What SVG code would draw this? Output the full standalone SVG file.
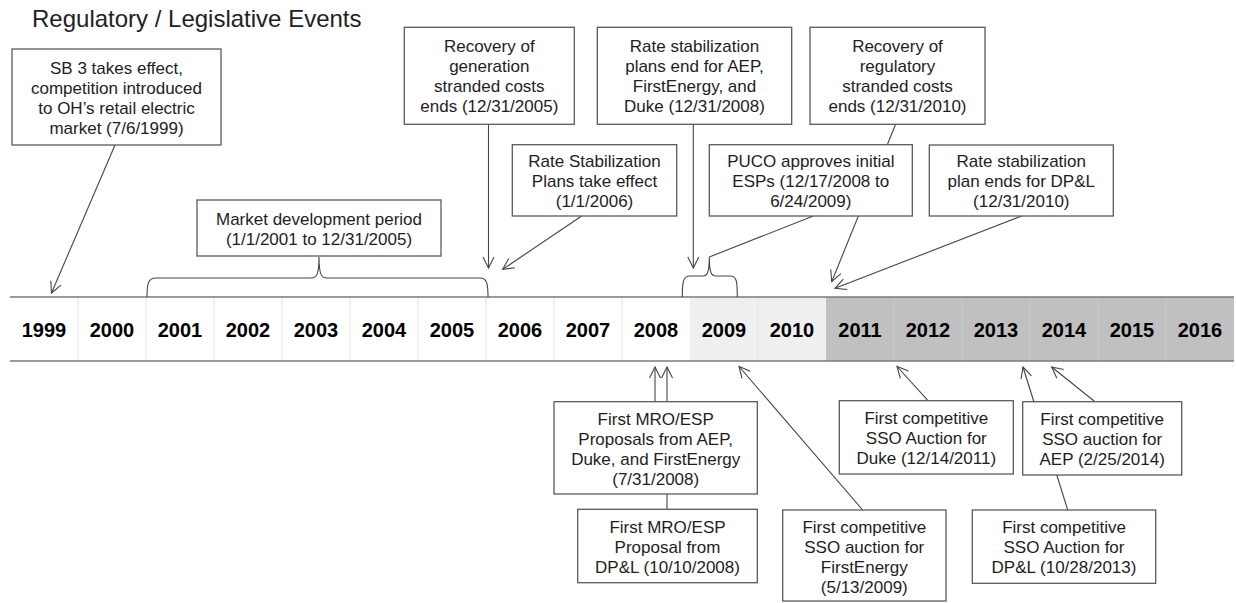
<svg xmlns="http://www.w3.org/2000/svg" width="1236" height="603" viewBox="0 0 1236 603">
<defs>
<style>
.box{fill:#ffffff;stroke:#5a5a5a;stroke-width:1.3}
.t{font-family:"Liberation Sans",Arial,Helvetica,sans-serif;font-size:17px;fill:#1e1e1e;text-anchor:middle}
.yr{font-family:"Liberation Sans",Arial,Helvetica,sans-serif;font-size:20px;font-weight:bold;fill:#000;text-anchor:middle}
.title{font-family:"Liberation Sans",Arial,Helvetica,sans-serif;font-size:24px;fill:#222}
.c{fill:none;stroke:#454545;stroke-width:1.1}
.ca{fill:none;stroke:#454545;stroke-width:1.1;marker-end:url(#arr)}
.div{stroke:#e2e2e2;stroke-width:1}
.divd{stroke:#cdcdcd;stroke-width:1}
.edge{stroke:#7a7a7a;stroke-width:1.6}
</style>
<marker id="arr" viewBox="-12 -7 14 14" refX="0" refY="0" markerWidth="14" markerHeight="14" orient="auto" markerUnits="userSpaceOnUse">
<path d="M-11,-5.5 L0,0 L-11,5.5" fill="none" stroke="#454545" stroke-width="1.1"/>
</marker>
</defs>
<rect width="1236" height="603" fill="#ffffff"/>
<text class="title" x="32" y="27">Regulatory / Legislative Events</text>

<g id="timeline">
<rect x="10" y="297" width="680" height="64" fill="#ffffff"/>
<rect x="690" y="297" width="136" height="64" fill="#efefef"/>
<rect x="826" y="297" width="408" height="64" fill="#c0c0c0"/>
<g class="div">
<line x1="78" y1="297" x2="78" y2="361"/><line x1="146" y1="297" x2="146" y2="361"/><line x1="214" y1="297" x2="214" y2="361"/><line x1="282" y1="297" x2="282" y2="361"/><line x1="350" y1="297" x2="350" y2="361"/><line x1="418" y1="297" x2="418" y2="361"/><line x1="486" y1="297" x2="486" y2="361"/><line x1="554" y1="297" x2="554" y2="361"/><line x1="622" y1="297" x2="622" y2="361"/><line x1="758" y1="297" x2="758" y2="361"/>
</g>
<g class="divd">
<line x1="894" y1="297" x2="894" y2="361"/><line x1="962" y1="297" x2="962" y2="361"/><line x1="1030" y1="297" x2="1030" y2="361"/><line x1="1098" y1="297" x2="1098" y2="361"/><line x1="1166" y1="297" x2="1166" y2="361"/>
</g>
<line class="edge" x1="10" y1="297" x2="1234" y2="297"/>
<line class="edge" x1="10" y1="361" x2="1234" y2="361"/>
<text class="yr" x="44" y="337">1999</text>
<text class="yr" x="112" y="337">2000</text>
<text class="yr" x="180" y="337">2001</text>
<text class="yr" x="248" y="337">2002</text>
<text class="yr" x="316" y="337">2003</text>
<text class="yr" x="384" y="337">2004</text>
<text class="yr" x="452" y="337">2005</text>
<text class="yr" x="520" y="337">2006</text>
<text class="yr" x="588" y="337">2007</text>
<text class="yr" x="656" y="337">2008</text>
<text class="yr" x="724" y="337">2009</text>
<text class="yr" x="792" y="337">2010</text>
<text class="yr" x="860" y="337">2011</text>
<text class="yr" x="928" y="337">2012</text>
<text class="yr" x="996" y="337">2013</text>
<text class="yr" x="1064" y="337">2014</text>
<text class="yr" x="1132" y="337">2015</text>
<text class="yr" x="1200" y="337">2016</text>
</g>

<g id="connectors">
<line class="ca" x1="115" y1="145" x2="51.5" y2="293"/>
<line class="ca" x1="488.5" y1="124" x2="488.5" y2="268"/>
<line class="ca" x1="581.7" y1="216" x2="502.7" y2="269.3"/>
<line class="ca" x1="693.3" y1="124" x2="693.3" y2="268"/>
<line class="c" x1="813.3" y1="216" x2="709.3" y2="257"/>
<line class="ca" x1="895.7" y1="124" x2="831.7" y2="281.7"/>
<line class="ca" x1="1021.7" y1="216" x2="835" y2="288.3"/>
<path class="c" d="M147,297 C147,284 148,278 156,278 L311,278 C316,278 319,276 319,257 C319,276 322,278 327,278 L480,278 C487,278 488,284 488,297"/>
<path class="c" d="M682.3,297 C682.3,282 683,276 690,276 L703,276 C707,276 709.3,273 709.3,257 C709.3,273 711.5,276 716,276 L730,276 C737,276 737.3,282 737.3,297"/>
<line class="ca" x1="655" y1="401.7" x2="655" y2="367"/>
<line class="ca" x1="667" y1="509.3" x2="667" y2="367"/>
<line class="ca" x1="862.7" y1="510" x2="739" y2="366.5"/>
<line class="ca" x1="928" y1="400.7" x2="897" y2="366.5"/>
<line class="ca" x1="1067.7" y1="510" x2="1023" y2="367"/>
<line class="ca" x1="1095" y1="401.7" x2="1051.7" y2="367"/>
</g>

<g id="n-sb3">
<rect class="box" x="12" y="49" width="209" height="96"/>
<text class="t" x="116.5" y="73.5">SB 3 takes effect,</text>
<text class="t" x="116.5" y="93.5">competition introduced</text>
<text class="t" x="116.5" y="113.5">to OH’s retail electric</text>
<text class="t" x="116.5" y="133.5">market (7/6/1999)</text>
</g>
<g id="n-market">
<rect class="box" x="197" y="200" width="244" height="56"/>
<text class="t" x="319" y="224.5">Market development period</text>
<text class="t" x="319" y="244.5">(1/1/2001 to 12/31/2005)</text>
</g>
<g id="n-gen">
<rect class="box" x="404.3" y="27.3" width="170" height="97"/>
<text class="t" x="489.3" y="52">Recovery of</text>
<text class="t" x="489.3" y="72">generation</text>
<text class="t" x="489.3" y="92">stranded costs</text>
<text class="t" x="489.3" y="112">ends (12/31/2005)</text>
</g>
<g id="n-rsp-effect">
<rect class="box" x="512.3" y="144.7" width="164.4" height="71.3"/>
<text class="t" x="594.5" y="167">Rate Stabilization</text>
<text class="t" x="594.5" y="187">Plans take effect</text>
<text class="t" x="594.5" y="207">(1/1/2006)</text>
</g>
<g id="n-rsp-end">
<rect class="box" x="597.3" y="27.3" width="194.4" height="97"/>
<text class="t" x="694.5" y="52">Rate stabilization</text>
<text class="t" x="694.5" y="72">plans end for AEP,</text>
<text class="t" x="694.5" y="92">FirstEnergy, and</text>
<text class="t" x="694.5" y="112">Duke (12/31/2008)</text>
</g>
<g id="n-puco">
<rect class="box" x="709.3" y="144.7" width="203" height="71.3"/>
<text class="t" x="810.8" y="167">PUCO approves initial</text>
<text class="t" x="810.8" y="187">ESPs (12/17/2008 to</text>
<text class="t" x="810.8" y="207">6/24/2009)</text>
</g>
<g id="n-reg">
<rect class="box" x="810" y="27.3" width="175" height="97"/>
<text class="t" x="897.5" y="52">Recovery of</text>
<text class="t" x="897.5" y="72">regulatory</text>
<text class="t" x="897.5" y="92">stranded costs</text>
<text class="t" x="897.5" y="112">ends (12/31/2010)</text>
</g>
<g id="n-rsp-dpl">
<rect class="box" x="929.3" y="145" width="184" height="71"/>
<text class="t" x="1021.3" y="167">Rate stabilization</text>
<text class="t" x="1021.3" y="187">plan ends for DP&amp;L</text>
<text class="t" x="1021.3" y="207">(12/31/2010)</text>
</g>
<g id="n-mro-aep">
<rect class="box" x="554" y="401.7" width="203.3" height="92.3"/>
<text class="t" x="655.7" y="424.5">First MRO/ESP</text>
<text class="t" x="655.7" y="444.5">Proposals from AEP,</text>
<text class="t" x="655.7" y="464.5">Duke, and FirstEnergy</text>
<text class="t" x="655.7" y="484.5">(7/31/2008)</text>
</g>
<g id="n-mro-dpl">
<rect class="box" x="577.7" y="509.3" width="179.6" height="73.4"/>
<text class="t" x="667.5" y="532.5">First MRO/ESP</text>
<text class="t" x="667.5" y="552.5">Proposal from</text>
<text class="t" x="667.5" y="572.5">DP&amp;L (10/10/2008)</text>
</g>
<g id="n-sso-fe">
<rect class="box" x="782.7" y="510" width="163.3" height="91"/>
<text class="t" x="864.3" y="532.5">First competitive</text>
<text class="t" x="864.3" y="552.5">SSO auction for</text>
<text class="t" x="864.3" y="572.5">FirstEnergy</text>
<text class="t" x="864.3" y="592.5">(5/13/2009)</text>
</g>
<g id="n-sso-duke">
<rect class="box" x="839.3" y="400.7" width="174" height="73.3"/>
<text class="t" x="926.3" y="423.5">First competitive</text>
<text class="t" x="926.3" y="443.5">SSO Auction for</text>
<text class="t" x="926.3" y="463.5">Duke (12/14/2011)</text>
</g>
<g id="n-sso-aep">
<rect class="box" x="1022.7" y="401.7" width="159" height="73.3"/>
<text class="t" x="1102.2" y="424.5">First competitive</text>
<text class="t" x="1102.2" y="444.5">SSO auction for</text>
<text class="t" x="1102.2" y="464.5">AEP (2/25/2014)</text>
</g>
<g id="n-sso-dpl">
<rect class="box" x="972.3" y="510" width="183.4" height="73.3"/>
<text class="t" x="1064" y="532.5">First competitive</text>
<text class="t" x="1064" y="552.5">SSO Auction for</text>
<text class="t" x="1064" y="572.5">DP&amp;L (10/28/2013)</text>
</g>
</svg>
